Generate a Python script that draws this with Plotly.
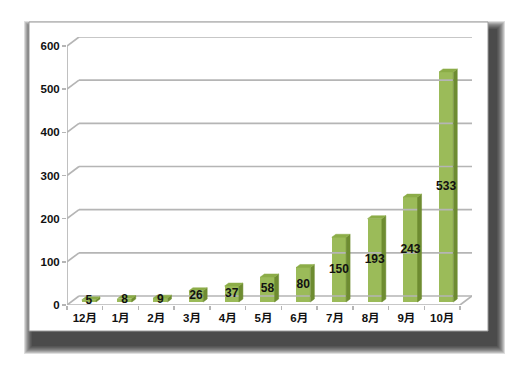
import plotly.graph_objects as go

# ---- data ----
categories = ["12月", "1月", "2月", "3月", "4月", "5月", "6月", "7月", "8月", "9月", "10月"]
values = [5, 8, 9, 26, 37, 58, 80, 150, 193, 243, 533]
y_ticks = [0, 100, 200, 300, 400, 500, 600]

# ---- geometry (figure pixels) ----
W, H = 519, 367
PL, PR, PT, PB = 67, 472, 37, 305          # plot area in pixels
D = 0.336                                 # depth offset in category units
DYV = 20.8                                # depth offset in value units
F1, F2 = 1/3, 2/3                          # bar front/back depth fractions
BW = 0.40                                 # bar width (category units)
GRID = "#b5b5b5"
FONT = "Liberation Sans, Noto Sans CJK JP, sans-serif"

n = len(categories)
xr = [-0.5, n - 0.5 + D]
yr = [0, max(y_ticks) + DYV]

def px(x):  # figure px -> paper x
    return (x - PL) / (PR - PL)

def py(y):  # figure px -> paper y
    return (PB - y) / (PB - PT)

fig = go.Figure()

# ---- walls / floor / gridlines ----
gx, gy = [], []
for v in y_ticks:
    gx += [-0.5, -0.5 + D, None]
    gy += [v, v + DYV, None]
    gx += [-0.5 + D, n - 0.5 + D, None]
    gy += [v + DYV, v + DYV, None]
gx += [-0.5, n - 0.5, n - 0.5 + D, None]
gy += [0, 0, DYV, None]
gx += [-0.5, -0.5, None]
gy += [0, max(y_ticks), None]
fig.add_trace(go.Scatter(x=gx, y=gy, mode="lines", line=dict(color=GRID, width=1.7),
                         hoverinfo="skip", showlegend=False))

# ---- 3D bars ----
dx1, dy1 = F1 * D, F1 * DYV
dxt, dyt = (F2 - F1) * D, (F2 - F1) * DYV
sx, sy, tx, ty = [], [], [], []
for i, v in enumerate(values):
    x0 = i + dx1 - BW / 2
    x1 = i + dx1 + BW / 2
    b = dy1
    t = dy1 + v
    sx += [x1, x1 + dxt, x1 + dxt, x1, x1, None]
    sy += [b, b + dyt, t + dyt, t, b, None]
    tx += [x0, x1, x1 + dxt, x0 + dxt, x0, None]
    ty += [t, t, t + dyt, t + dyt, t, None]

fig.add_trace(go.Scatter(x=sx, y=sy, mode="lines", fill="toself", fillcolor="#6e8c31",
                         line=dict(width=0.5, color="#6e8c31"), hoverinfo="skip", showlegend=False))
fig.add_trace(go.Bar(x=[i + dx1 for i in range(n)], y=values, base=[dy1] * n, width=BW,
                     marker=dict(color="#9bbb59", line=dict(width=0)), hoverinfo="skip",
                     showlegend=False))
fig.add_trace(go.Scatter(x=tx, y=ty, mode="lines", fill="toself", fillcolor="#8cad48",
                         line=dict(width=0.5, color="#8cad48"), hoverinfo="skip", showlegend=False))

# ---- data labels ----
fig.add_trace(go.Scatter(x=[i + dx1 for i in range(n)], y=[dy1 + v / 2 for v in values],
                         mode="text", text=["<b>%d</b>" % v for v in values],
                         textfont=dict(family=FONT, size=12, color="#111111"),
                         hoverinfo="skip", showlegend=False))

fig.add_trace(go.Scatter(x=[0], y=[0], xaxis="x2", mode="markers", marker=dict(opacity=0),
                         hoverinfo="skip", showlegend=False))

# ---- card frame + shadow ----
shapes = []
sx0, sy0, sx1, sy1 = 33, 30, 496, 345
steps = 10
for k in range(steps):
    r = (steps - k) * 0.9
    shapes.append(dict(type="rect", xref="paper", yref="paper", layer="below",
                       x0=px(sx0 - r), x1=px(sx1 + r), y0=py(sy1 + r), y1=py(sy0 - r),
                       line=dict(width=0), fillcolor="rgba(25,25,25,0.14)"))
shapes.append(dict(type="rect", xref="paper", yref="paper", layer="below",
                   x0=px(29), x1=px(488), y0=py(331), y1=py(22),
                   line=dict(width=1, color="#9a9a9a"), fillcolor="white"))

fig.update_layout(
    width=W, height=H,
    margin=dict(l=PL, r=W - PR, t=PT, b=H - PB),
    paper_bgcolor="white", plot_bgcolor="rgba(0,0,0,0)",
    shapes=shapes,
    bargap=0,
    xaxis=dict(range=xr, tickmode="array", tickvals=list(range(n)),
               ticktext=["<b>%s</b>" % c for c in categories],
               showgrid=False, zeroline=False, showline=False, ticks="",
               ticklabelstandoff=4,
               tickfont=dict(family=FONT, size=11.5, color="#111111"), fixedrange=True),
    xaxis2=dict(range=xr, overlaying="x", anchor="y", side="bottom",
                tickmode="array", tickvals=[i - 0.5 for i in range(n + 1)],
                showticklabels=False, ticks="outside", ticklen=4, tickwidth=1.5, tickcolor=GRID,
                showgrid=False, zeroline=False, showline=False),
    yaxis=dict(range=yr, tickmode="array", tickvals=y_ticks,
               ticktext=["<b>%d</b>" % v for v in y_ticks],
               showgrid=False, zeroline=False,
               showline=False, ticks="outside", ticklen=4, tickwidth=1.5, tickcolor=GRID,
               tickfont=dict(family=FONT, size=11.5, color="#111111"), fixedrange=True),
)

fig.write_html("out.html", config={"displayModeBar": False, "staticPlot": True},
               post_script="document.body.style.margin='0';document.body.style.overflow='hidden';")
